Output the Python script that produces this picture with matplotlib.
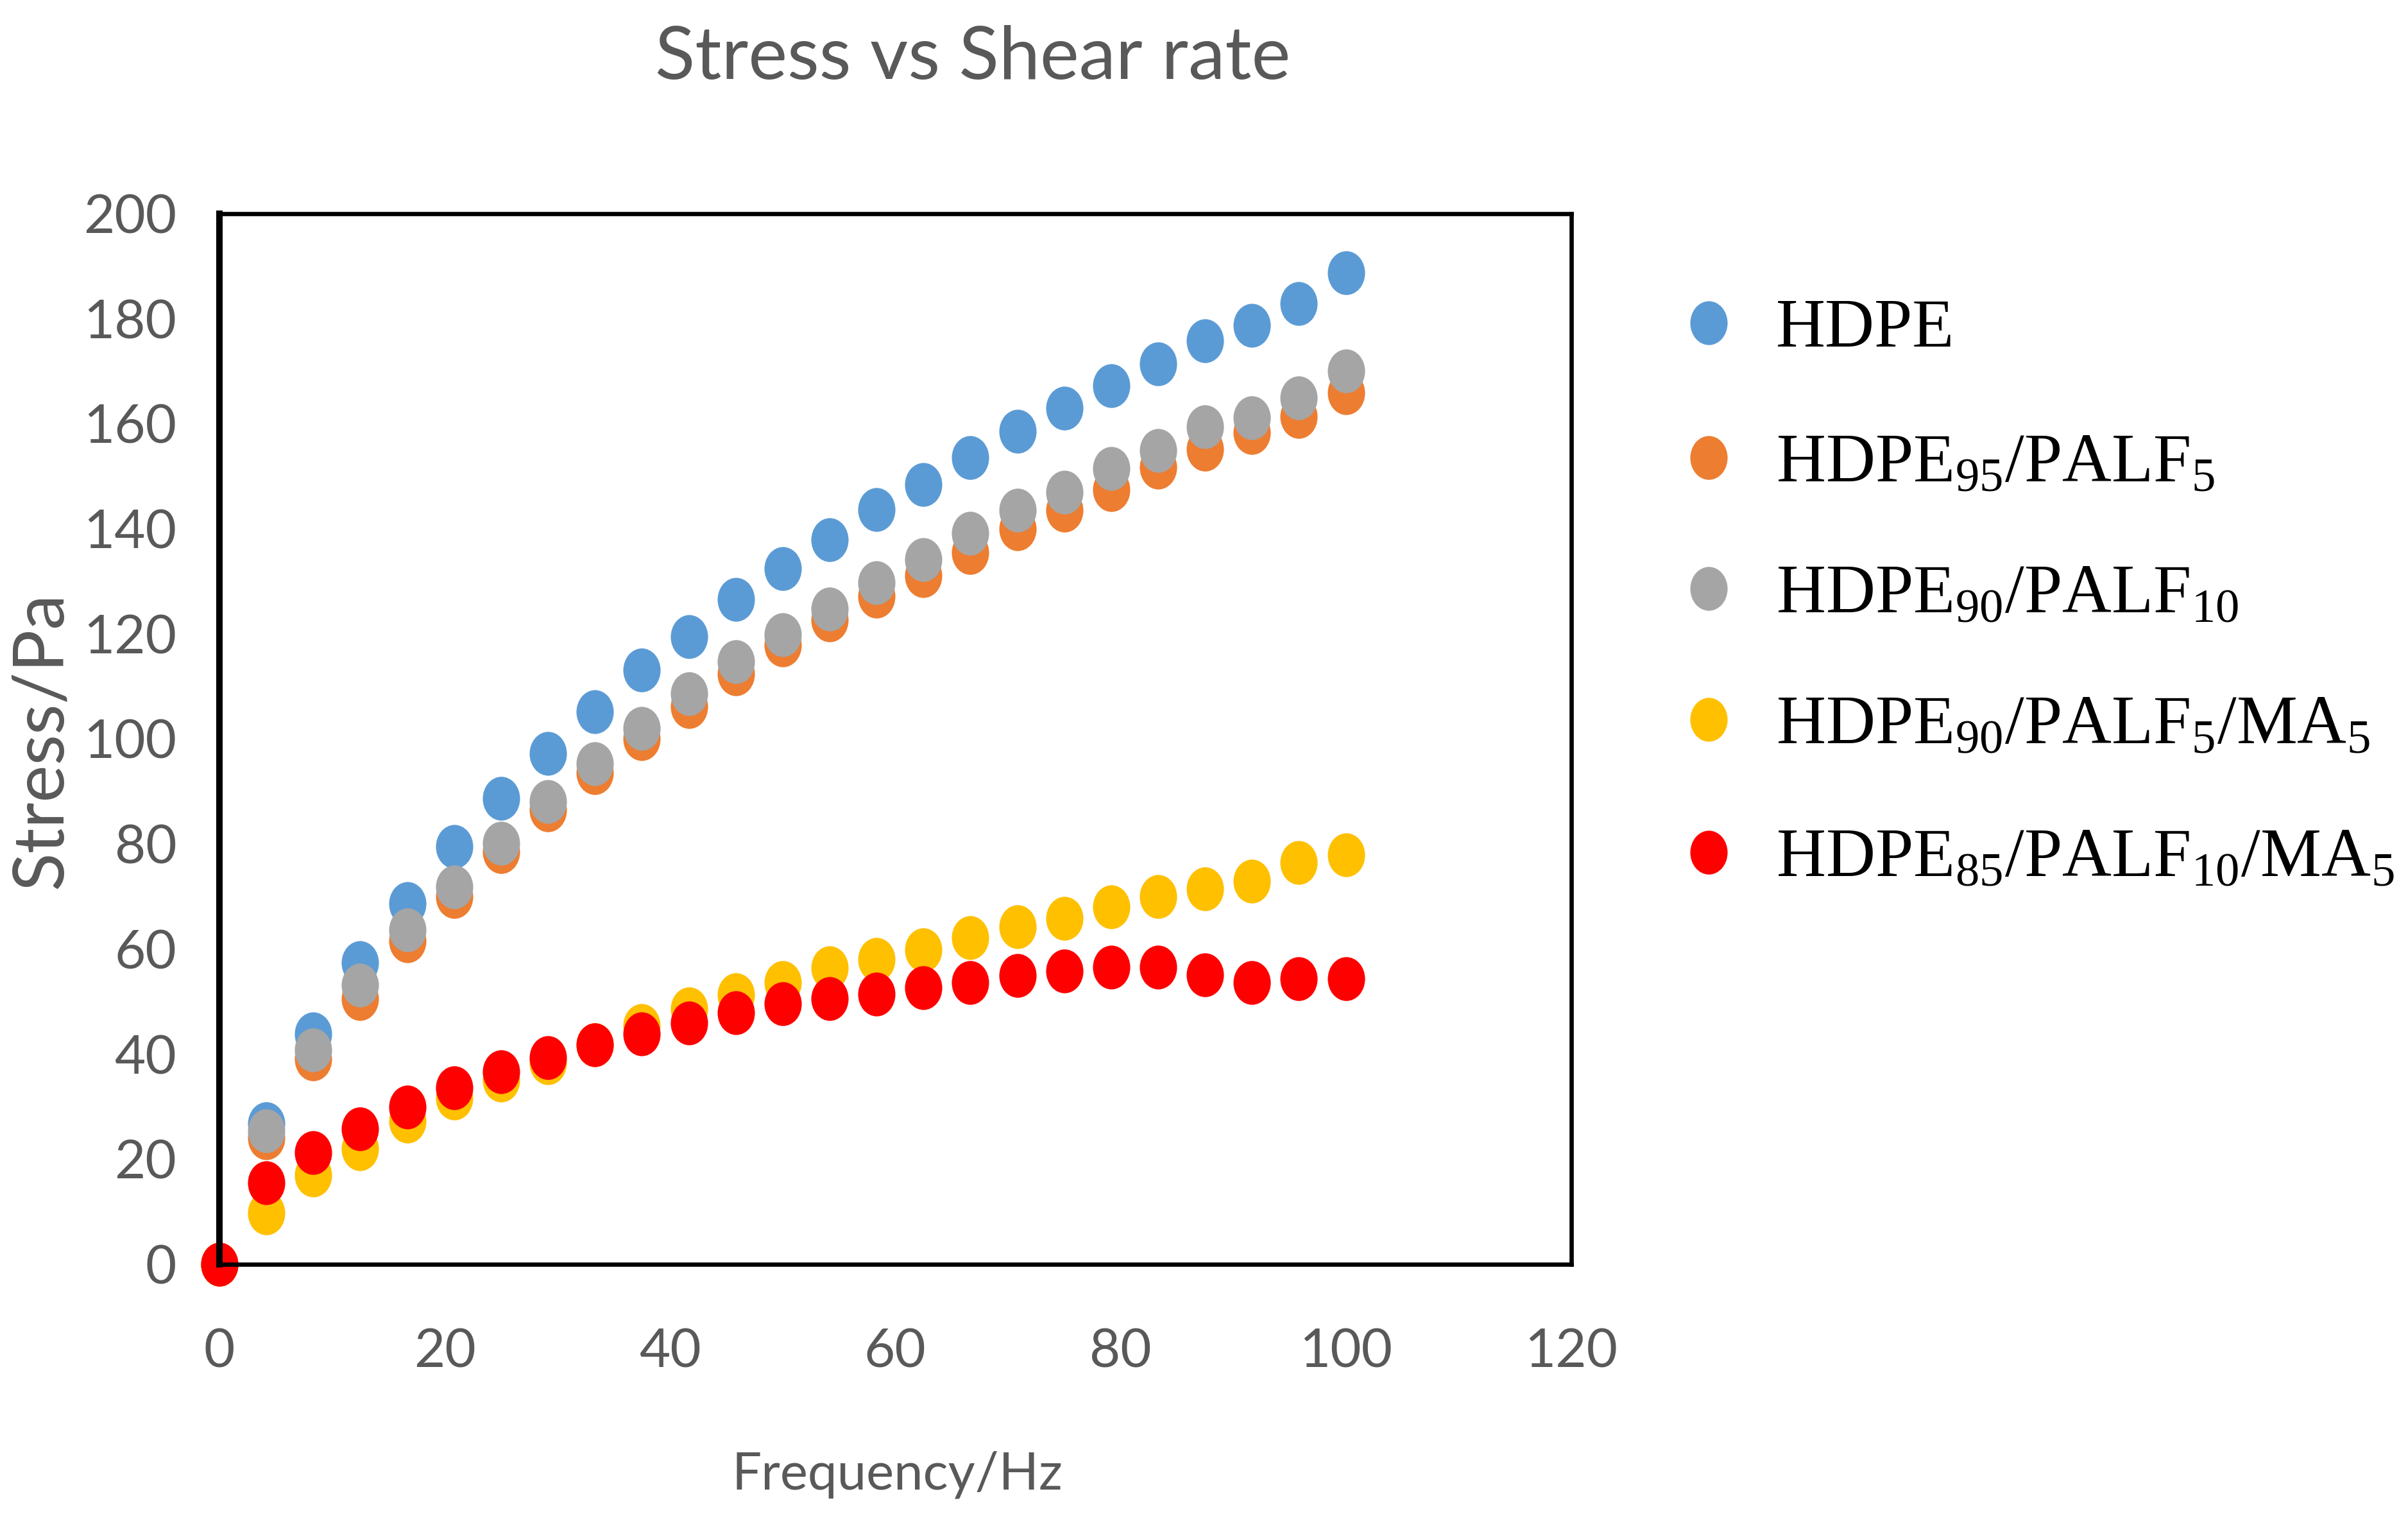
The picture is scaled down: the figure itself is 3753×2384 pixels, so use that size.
import matplotlib
matplotlib.use("Agg")
import matplotlib.pyplot as plt
from matplotlib.lines import Line2D
from matplotlib.path import Path

# data
freq = [0, 4.17, 8.33, 12.5, 16.67, 20.83, 25, 29.17, 33.33, 37.5, 41.67, 45.83, 50,
        54.17, 58.33, 62.5, 66.67, 70.83, 75, 79.17, 83.33, 87.5, 91.67, 95.83, 100]
hdpe = [0, 26.8, 43.9, 57.4, 68.7, 79.5, 88.7, 97.3, 105.2, 113.1, 119.5, 126.6, 132.4,
        137.9, 143.7, 148.5, 153.6, 158.6, 163.0, 167.2, 171.4, 175.8, 178.7, 182.9, 188.8]
hdpe95_palf5 = [0, 24.1, 39.1, 50.6, 61.6, 70.0, 78.6, 86.5, 93.6, 100.0, 106.2, 112.4, 117.9,
                122.7, 127.2, 131.1, 135.5, 140.0, 143.6, 147.5, 151.8, 155.2, 158.3, 161.4, 165.9]
hdpe90_palf10 = [0, 25.4, 40.8, 53.1, 63.7, 71.8, 80.2, 88.1, 95.3, 102.0, 108.6, 114.7, 119.9,
                 124.8, 129.7, 134.1, 139.2, 143.6, 147.0, 151.5, 154.9, 159.4, 161.2, 164.9, 170.1]
hdpe90_palf5_ma5 = [0, 9.8, 17.0, 22.0, 27.2, 31.6, 35.0, 38.4, 41.8, 45.4, 48.6, 51.3, 53.6,
                    56.4, 58.0, 59.9, 62.2, 64.3, 65.9, 68.0, 70.0, 71.5, 72.9, 76.5, 77.9]
hdpe85_palf10_ma5 = [0, 15.5, 21.3, 25.8, 29.9, 33.6, 36.6, 39.3, 41.8, 43.9, 45.9, 47.9, 49.6,
                     50.6, 51.4, 52.7, 53.6, 55.0, 55.8, 56.5, 56.5, 55.1, 53.6, 54.3, 54.3]

labels = [r"HDPE",
          r"HDPE$_{95}$/PALF$_{5}$",
          r"HDPE$_{90}$/PALF$_{10}$",
          r"HDPE$_{90}$/PALF$_{5}$/MA$_{5}$",
          r"HDPE$_{85}$/PALF$_{10}$/MA$_{5}$"]
series = [hdpe, hdpe95_palf5, hdpe90_palf10, hdpe90_palf5_ma5, hdpe85_palf10_ma5]
colors = ["#5B9BD5", "#ED7D31", "#A5A5A5", "#FFC000", "#FF0000"]

TXT = "#595959"
plt.rcParams.update({"font.family": ["Lato", "DejaVu Sans"],
                     "mathtext.fontset": "custom",
                     "mathtext.rm": "Liberation Serif",
                     "mathtext.default": "rm"})

# excel markers come out slightly squashed sideways in the picture
circ = Path.unit_circle()
ELL = Path(circ.vertices * [0.85, 1.0], circ.codes)

fig = plt.figure(figsize=(3753 / 240, 2384 / 240), dpi=240)
ax = fig.add_axes([0.0911, 0.1737, 0.6525 - 0.0911, 0.8603 - 0.1737])

for ys, c, lab in zip(series, colors, labels):
    ax.plot(freq, ys, ls="none", marker=ELL, ms=20.5, mfc=c, mec=c, mew=0,
            clip_on=False, label=lab)

ax.set_xlim(0, 120)
ax.set_ylim(0, 200)
ax.set_xticks(range(0, 121, 20))
ax.set_yticks(range(0, 201, 20))
ax.tick_params(axis="both", length=0, labelsize=25, labelcolor=TXT)
ax.tick_params(axis="x", pad=30)
ax.tick_params(axis="y", pad=20)
for name, sp in ax.spines.items():
    sp.set_color("black")
    sp.set_linewidth(3.0 if name == "left" else 2.0)

fig.text(0.404, 0.962, "Stress vs Shear rate", ha="center", va="center",
         fontsize=34.5, color=TXT)
fig.text(0.3725, 0.036, "Frequency/Hz", ha="center", va="center",
         fontsize=24.5, color=TXT)
fig.text(0.0173, 0.516, "Stress/Pa", ha="center", va="center", rotation=90,
         fontsize=33, color=TXT)

# legend drawn by hand so the rows keep the even spacing of the original
leg_y = [1 - 503 / 2384, 1 - 713 / 2384, 1 - 917 / 2384, 1 - 1121 / 2384, 1 - 1328 / 2384]
for yy, c, lab in zip(leg_y, colors, labels):
    fig.add_artist(Line2D([2663 / 3753], [yy], transform=fig.transFigure, ls="none",
                          marker=ELL, ms=20.5, mfc=c, mec=c, mew=0))
    fig.text(2768 / 3753, yy, lab, ha="left", va="center_baseline", fontsize=32,
             family="Liberation Serif", color="black")

fig.savefig("out.png", dpi=240, facecolor="white")
